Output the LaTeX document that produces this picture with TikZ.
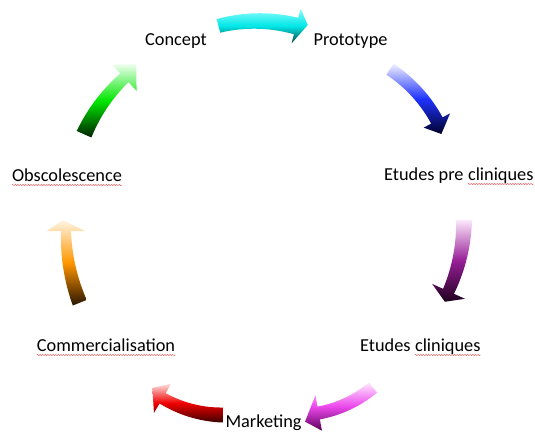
\documentclass[tikz,border=0pt]{standalone}
\usepackage{fontspec}
\setmainfont{Carlito}
\usetikzlibrary{decorations.pathmorphing}
\definecolor{spellred}{RGB}{232,100,100}
\definecolor{cyT}{RGB}{140,255,255}\definecolor{cyM}{RGB}{0,230,230}\definecolor{cyB}{RGB}{0,70,70}
\definecolor{blT}{RGB}{240,240,255}\definecolor{blM}{RGB}{30,50,255}\definecolor{blB}{RGB}{0,0,40}
\definecolor{puT}{RGB}{252,232,252}\definecolor{puM}{RGB}{150,30,150}\definecolor{puB}{RGB}{30,0,30}
\definecolor{maT}{RGB}{255,232,255}\definecolor{maM}{RGB}{235,70,235}\definecolor{maB}{RGB}{90,0,90}
\definecolor{reT}{RGB}{255,225,225}\definecolor{reM}{RGB}{240,0,0}\definecolor{reB}{RGB}{60,0,0}
\definecolor{orT}{RGB}{255,245,228}\definecolor{orM}{RGB}{255,150,0}\definecolor{orB}{RGB}{40,20,0}
\definecolor{grT}{RGB}{238,255,238}\definecolor{grM}{RGB}{0,230,0}\definecolor{grB}{RGB}{0,35,0}
\def\parsehead#1/#2/#3\relax{\def\HWid{#1}\def\HLen{#2}\def\HDr{#3}}
% #1 style, #2 Ox, #3 Oy, #4 R, #5 a1, #6 a2, #7 w1, #8 w2, #9 hw/hl/dr
\newcommand\carrow[9]{%
  \parsehead#9\relax
  \pgfmathsetmacro\dA{#6-(#5)}%
  \pgfmathsetmacro\sg{sign(\dA)}%
  \pgfmathsetmacro\dW{#8-(#7)}%
  \pgfmathsetmacro\Bx{#2+(#4)*cos(#6)}%
  \pgfmathsetmacro\By{#3+(#4)*sin(#6)}%
  \pgfmathsetmacro\Tx{-(\sg)*sin(#6)}%
  \pgfmathsetmacro\Ty{(\sg)*cos(#6)}%
  \pgfmathsetmacro\Nx{cos(#6)}%
  \pgfmathsetmacro\Ny{sin(#6)}%
  \coordinate (bo) at ({\Bx+(\HWid)*\Nx},{\By+(\HWid)*\Ny});
  \coordinate (bi) at ({\Bx-(\HWid)*\Nx},{\By-(\HWid)*\Ny});
  \coordinate (tp) at ({\Bx+(\HLen)*\Tx+(\HDr)*\Nx},{\By+(\HLen)*\Ty+(\HDr)*\Ny});
  \shade[#1] plot[domain=0:1,samples=30,variable=\t]
     ({#2+(#4+((#7)+(\dW)*\t)/2)*cos((#5)+(\dA)*\t)},{#3+(#4+((#7)+(\dW)*\t)/2)*sin((#5)+(\dA)*\t)})
     -- (bo) -- (tp) -- (bi) --
     plot[domain=0:1,samples=30,variable=\t]
     ({#2+(#4-((#8)-(\dW)*\t)/2)*cos((#6)-(\dA)*\t)},{#3+(#4-((#8)-(\dW)*\t)/2)*sin((#6)-(\dA)*\t)})
     -- cycle;
}
\begin{document}
\begin{tikzpicture}[x=1pt,y=-1pt,
  lbl/.style={font=\fontsize{18.3}{22}\selectfont, inner sep=0pt, anchor=base, text=black},
  spell/.style={draw=spellred, line width=0.5pt, decorate, decoration={snake, amplitude=0.6pt, segment length=2.6pt}},
  cyarr/.style={top color=cyT, bottom color=cyB, middle color=cyM},
  blarr/.style={top color=blT, bottom color=blB, middle color=blM},
  puarr/.style={top color=puT, bottom color=puB, middle color=puM},
  maarr/.style={top color=maT, bottom color=maB, middle color=maM},
  rearr/.style={top color=reT, bottom color=reB, middle color=reM},
  orarr/.style={top color=orT, bottom color=orB, middle color=orM},
  grarr/.style={top color=grT, bottom color=grB, middle color=grM}]
\useasboundingbox[fill=white] (0,0) rectangle (535,432);
% arrows
\carrow{cyarr}{257}{175}{154}{-104.5}{-75.3}{14}{17}{18/11/4}
\carrow{blarr}{310.7}{189}{143.6}{-56.5}{-28.5}{13}{13}{15/14/-2.5}
\carrow{puarr}{292}{220}{172}{0}{24.5}{16}{12}{18/11/1}
\carrow{maarr}{297}{296}{119}{50.3}{79.5}{13}{13}{18/15/6}
\carrow{rearr}{224}{294}{121}{90.5}{120.5}{15}{12}{17/14/-3.6}
\carrow{orarr}{260}{231}{194}{158.3}{180}{15}{10}{19/11/3.3}
\carrow{grarr}{243}{205}{174}{-156}{-133}{16}{12}{18/18/2}
% labels
\node[lbl] (concept) at (176,45) {Concept};
\node[lbl] (proto) at (350.5,45) {Prototype};
\node[lbl, anchor=base west] (epc) at (384,180) {Etudes pre};
\node[lbl, anchor=base west] (epcw) at ([xshift=4.1pt]epc.base east) {cliniques};
\node[lbl, anchor=base west] (ec) at (360,351) {Etudes};
\node[lbl, anchor=base west] (ecw) at ([xshift=4.1pt]ec.base east) {cliniques};
\node[lbl] (mkt) at (263.5,427) {Marketing};
\node[lbl] (comm) at (106,351) {Commercialisation};
\node[lbl] (obs) at (67,181) {Obscolescence};
% spelling marks
\foreach \w in {epcw, ecw, comm, obs}
  \draw[spell] ([yshift=-4pt]\w.base west) -- ([yshift=-4pt]\w.base east);
\end{tikzpicture}
\end{document}
